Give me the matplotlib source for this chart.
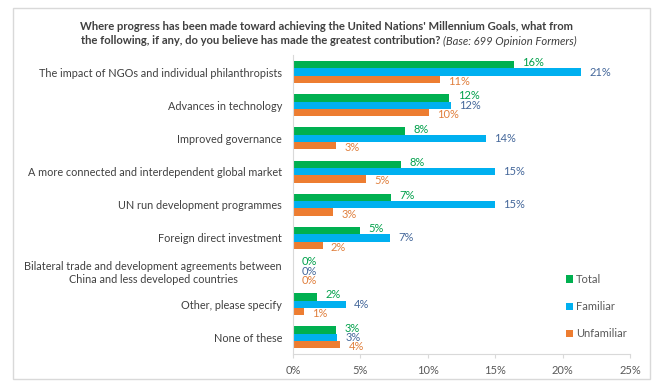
import numpy as np
import matplotlib
matplotlib.use("Agg")
import matplotlib.pyplot as plt
from matplotlib.patches import Rectangle

categories = [
    "The impact of NGOs and individual philanthropists",
    "Advances in technology",
    "Improved governance",
    "A more connected and interdependent global market",
    "UN run development programmes",
    "Foreign direct investment",
    "Bilateral trade and development agreements between\nChina and less developed countries",
    "Other, please specify",
    "None of these",
]
total = [16.4, 11.6, 8.3, 8.0, 7.3, 5.0, 0.0, 1.8, 3.2]
familiar = [21.4, 11.7, 14.3, 15.0, 15.0, 7.2, 0.0, 3.9, 3.3]
unfamiliar = [10.9, 10.1, 3.2, 5.4, 3.0, 2.2, 0.0, 0.8, 3.5]
total_lbl = ["16%", "12%", "8%", "8%", "7%", "5%", "0%", "2%", "3%"]
familiar_lbl = ["21%", "12%", "14%", "15%", "15%", "7%", "0%", "4%", "3%"]
unfamiliar_lbl = ["11%", "10%", "3%", "5%", "3%", "2%", "0%", "1%", "4%"]
series_names = ["Total", "Familiar", "Unfamiliar"]
xticks = [0, 5, 10, 15, 20, 25]

plt.rcParams['font.family'] = ['Lato', 'DejaVu Sans']

fig = plt.figure(figsize=(6.57, 3.87), dpi=100)
ax = fig.add_axes([293/657, 1-354/387, (630-293)/657, (354-55.5)/387])

y = np.arange(len(categories))
h = 0.22
series = [
    (total, total_lbl, "#00B050", "#00A04A", -1.5),
    (familiar, familiar_lbl, "#00B0F0", "#44679A", 0),
    (unfamiliar, unfamiliar_lbl, "#ED7D31", "#E07F3C", 1.5),
]
for k, (vals, lbls, col, lcol, dy) in enumerate(series):
    ypos = y + (k - 1) * h
    ax.barh(ypos, vals, height=h, color=col, label=series_names[k])
    for yy, v, t in zip(ypos, vals, lbls):
        ax.annotate(t, (v, yy), xytext=(6, -dy), textcoords="offset points",
                    ha="left", va="center", fontsize=8, color=lcol)

ax.set_xlim(0, 25)
ax.set_ylim(len(categories) - 0.5, -0.5)
ax.set_xticks(xticks)
ax.set_xticklabels([f"{t}%" for t in xticks])
ax.set_yticks(y)
ax.set_yticklabels(categories, multialignment="center")
ax.tick_params(axis="y", length=0, pad=8, labelsize=7.8, labelcolor="#404040")
ax.tick_params(axis="x", length=3, color="#D9D9D9", labelsize=8, labelcolor="#595959", pad=5)
for s in ["top", "right"]:
    ax.spines[s].set_visible(False)
ax.spines["left"].set_color("#D9D9D9")
ax.spines["bottom"].set_color("#D9D9D9")

ax.legend(loc="center left", bbox_to_anchor=(566/657, 1-306.5/387),
          bbox_transform=fig.transFigure, frameon=False, fontsize=8,
          handlelength=0.6, handleheight=0.6, handletextpad=0.3,
          labelspacing=1.45, borderpad=0, borderaxespad=0, labelcolor="#595959")

fs = 8.1
fig.text(326/657, 1-27/387,
         "Where progress has been made toward achieving the United Nations' Millennium Goals, what from",
         ha="center", va="center", fontsize=fs, fontweight="bold", color="#404040")
fig.text(440/657, 1-41/387,
         "the following, if any, do you believe has made the greatest contribution?",
         ha="right", va="center", fontsize=fs, fontweight="bold", color="#404040")
fig.text(443/657, 1-41/387, "(Base: 699 Opinion Formers)",
         ha="left", va="center", fontsize=fs, style="italic", color="#404040")

fig.patches.append(Rectangle((13/657, 1-379/387), (650-13)/657, (379-8)/387,
                             transform=fig.transFigure, fill=False,
                             edgecolor="#D9D9D9", lw=1))

fig.savefig("out.png", dpi=100)
